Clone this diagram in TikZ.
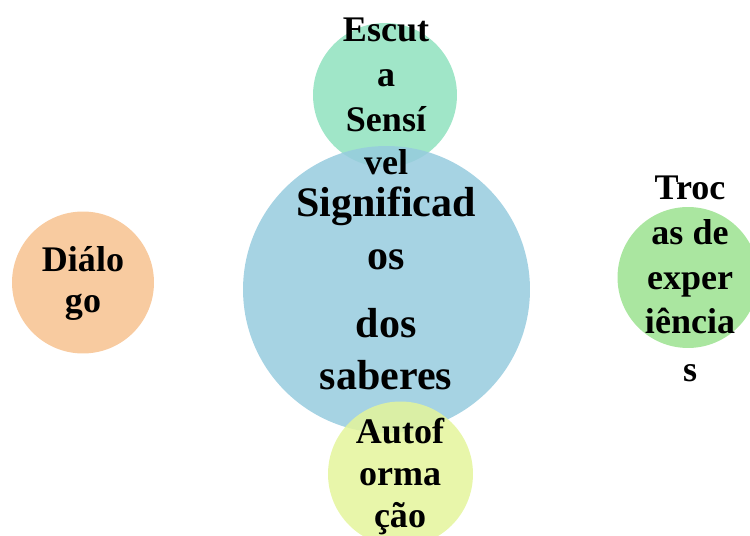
\documentclass[tikz,border=0pt]{standalone}
\usepackage{fontspec}
\setmainfont{Liberation Serif}
\usepackage{tikz}

\definecolor{azul}{RGB}{150,203,222}
\definecolor{menta}{RGB}{160,230,200}
\definecolor{lima}{RGB}{228,245,155}
\definecolor{pessego}{RGB}{248,203,160}
\definecolor{verde}{RGB}{170,230,160}

\tikzset{
  bolha/.style={circle, inner sep=0pt, minimum size=#1},
  rotulo/.style={anchor=base, inner sep=0pt, font=\bfseries\fontsize{20.5}{25}\selectfont},
  rotulogrande/.style={anchor=base, inner sep=0pt, font=\bfseries\fontsize{23.9}{29}\selectfont}
}

\begin{document}
\begin{tikzpicture}[x=0.02cm,y=-0.02cm]
        \useasboundingbox (0,0) rectangle (750,536);
        \node[bolha=2.88cm, fill=menta] (escuta) at (385,95) {};
        \node[bolha=5.74cm, fill=azul, fill opacity=0.85] (significados) at (386.5,289.5) {};
        \node[bolha=2.9cm, fill=lima, fill opacity=0.85] (autoformacao) at (400.5,474) {};
        \node[bolha=2.84cm, fill=pessego] (dialogo) at (83,282.5) {};
        \node[bolha=2.82cm, fill=verde] (trocas) at (688,277.5) {};
        \foreach \txt/\yy [count=\i] in {Escut/42, a/87, Sensí/132, vel/175}
          \node[rotulo] (escuta-\i) at (386,\yy) {\txt};
        \foreach \txt/\yy [count=\i] in {Significad/217, os/270, dos/338, saberes/390}
          \node[rotulogrande] (significados-\i) at (386,\yy) {\txt};
        \foreach \txt/\yy [count=\i] in {Autof/443, orma/485, ção/527}
          \node[rotulo] (autoformacao-\i) at (400,\yy) {\txt};
        \foreach \txt/\yy [count=\i] in {Diálo/272, go/313}
          \node[rotulo] (dialogo-\i) at (83,\yy) {\txt};
        \foreach \txt/\yy [count=\i] in {Troc/200, as de/245, exper/290, iência/334, s/382}
          \node[rotulo] (trocas-\i) at (690,\yy) {\txt};
\end{tikzpicture}
\end{document}
